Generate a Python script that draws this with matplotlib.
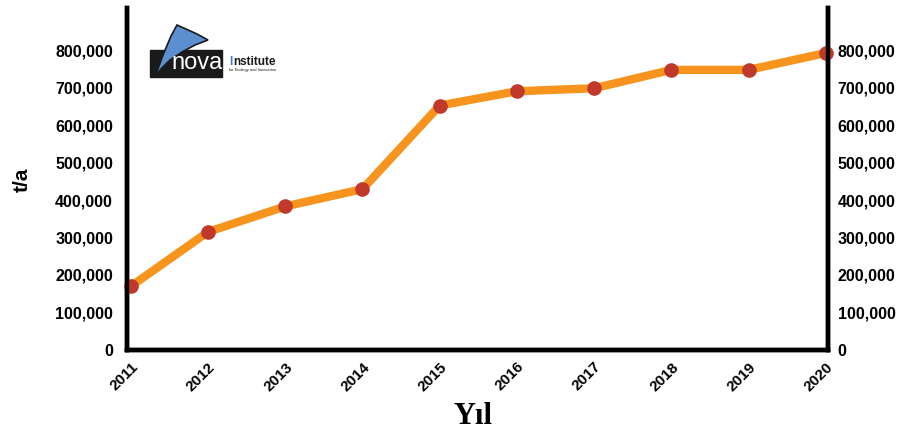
import matplotlib.pyplot as plt
from matplotlib.patches import Polygon, Rectangle
from matplotlib.ticker import FuncFormatter

years = [2011, 2012, 2013, 2014, 2015, 2016, 2017, 2018, 2019, 2020]
tonnes = [170000, 315000, 383000, 429000, 652000, 690000, 698000, 747000, 747000, 792000]
yticks = [0, 100000, 200000, 300000, 400000, 500000, 600000, 700000, 800000]

line_color = '#F7941D'
dot_color = '#C0392B'

plt.rcParams['font.family'] = ['Liberation Sans', 'DejaVu Sans']

fig = plt.figure(figsize=(9.04, 4.33), dpi=100)
ax = fig.add_axes([0.1405, 0.1917, 0.7755, 0.7898])
axr = ax.twinx()

ax.plot(years, tonnes, color=line_color, lw=6, solid_capstyle='round', zorder=2)
ax.plot(years, tonnes, 'o', color=dot_color, ms=9.5, zorder=3, clip_on=False)

ax.set_xlim(2010.95, 2020.03)
for a in (ax, axr):
    a.set_ylim(0, 912000)
    a.set_yticks(yticks)
    a.yaxis.set_major_formatter(FuncFormatter(lambda v, p: f'{int(v):,}'))
    for side in ('left', 'right', 'bottom'):
        a.spines[side].set_linewidth(3.2)
        a.spines[side].set_color('black')
    a.spines['top'].set_visible(False)
ax.set_xticks(years)

ax.tick_params(axis='y', length=0, pad=10, labelsize=11.5)
axr.tick_params(axis='y', length=0, pad=7, labelsize=11.5)
ax.tick_params(axis='x', length=0, pad=7, labelsize=11)
for lbl in ax.get_yticklabels() + axr.get_yticklabels():
    lbl.set_fontweight('bold')
for lbl in ax.get_xticklabels():
    lbl.set_fontweight('bold')
    lbl.set_rotation(45)
    lbl.set_ha('right')
    lbl.set_rotation_mode('anchor')

fig.text(0.025, 0.585, 't/a', fontsize=15, fontweight='bold', rotation=90,
         ha='center', va='center')
fig.text(0.523, 0.038, 'Yıl', fontsize=22, fontweight='bold',
         family=['Liberation Serif', 'DejaVu Serif'], ha='center', va='center')

# nova-Institute logo in pixel space
logo = fig.add_axes([0, 0, 1, 1], zorder=5)
logo.set_xlim(0, 904)
logo.set_ylim(433, 0)
logo.axis('off')
logo.add_patch(Rectangle((150, 50), 72, 27, color='#1a1a1a'))
logo.add_patch(Polygon([(155, 77), (163, 55), (171, 36), (177, 25), (186, 29), (197, 34),
                        (208, 40), (195, 45), (182, 52), (170, 60), (161, 69)],
                       closed=True, fc='#5B8FD0', ec='#1a1a1a', lw=1.2))
logo.text(197, 63, 'nova', color='white', fontsize=17, ha='center', va='center')
logo.text(229, 62, 'I', color='#3A7BD5', fontsize=8.5, fontweight='bold', va='center')
logo.text(233.5, 62, 'nstitute', color='#1a1a1a', fontsize=8.5, fontweight='bold', va='center')
logo.text(229, 70.5, 'for Ecology and Innovation', color='#1a1a1a', fontsize=2.9, va='center')

fig.savefig('out.png', dpi=100)
